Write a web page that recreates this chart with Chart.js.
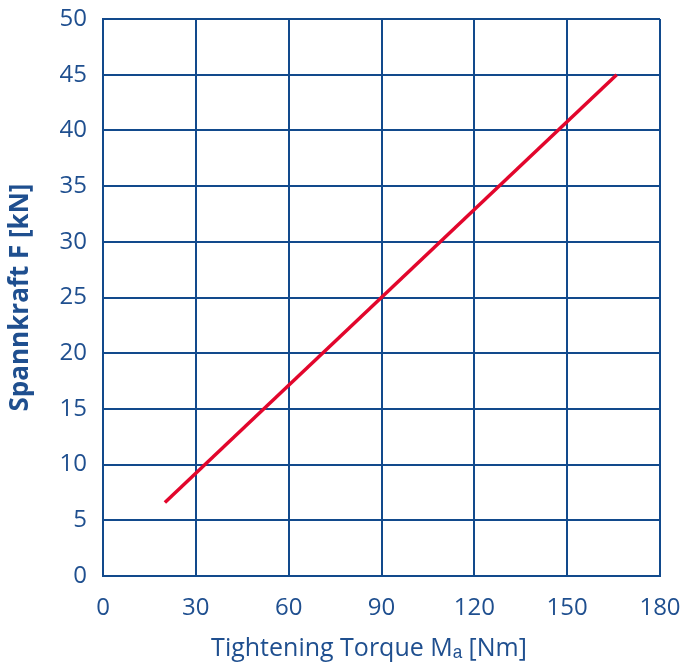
<!DOCTYPE html>
<html>
<head>
<meta charset="utf-8">
<script src="https://cdn.jsdelivr.net/npm/chart.js@4"></script>
<style>
html,body{margin:0;padding:0;background:#fff;}
#wrap{width:685px;height:664px;position:relative;}
</style>
</head>
<body>
<div id="wrap"><canvas id="c" width="685" height="664"></canvas></div>
<script>
const torque = [20, 166];
const force = [6.6, 45];
const xTicks = [0, 30, 60, 90, 120, 150, 180];
const yTicks = [0, 5, 10, 15, 20, 25, 30, 35, 40, 45, 50];
const xTitle = "Tightening Torque Mₐ [Nm]\u2002\u2002";
const yTitle = "Spannkraft F [kN]";

const blue = '#124a8c';
const textBlue = '#1f4f8f';
const fontFam = "'Open Sans', sans-serif";

new Chart(document.getElementById('c'), {
  type: 'scatter',
  data: {
    datasets: [{
      data: torque.map((x, i) => ({x: x, y: force[i]})),
      showLine: true,
      borderColor: '#e2062c',
      borderWidth: 3.5,
      pointRadius: 0,
      fill: false
    }]
  },
  options: {
    responsive: false,
    animation: false,
    devicePixelRatio: 1,
    layout: {padding: {top: 19, right: 25, left: 0, bottom: 0}},
    plugins: {legend: {display: false}, tooltip: {enabled: false}},
    scales: {
      x: {
        type: 'linear', min: 0, max: 180,
        afterBuildTicks: s => { s.ticks = xTicks.map(v => ({value: v})); },
        afterFit: s => { s.height = 88; s.paddingLeft = 0; s.paddingRight = 0; },
        grid: {color: blue, lineWidth: 2, drawTicks: false},
        border: {color: blue, width: 2},
        ticks: {color: textBlue, font: {family: fontFam, size: 24}, padding: 18, maxRotation: 0},
        title: {display: true, text: xTitle, color: textBlue, font: {family: fontFam, size: 25}, padding: {top: 0, bottom: 0}}
      },
      y: {
        type: 'linear', min: 0, max: 50,
        afterBuildTicks: s => { s.ticks = yTicks.map(v => ({value: v})); },
        afterFit: s => { s.width = 103; s.paddingTop = 0; s.paddingBottom = 0; },
        grid: {color: blue, lineWidth: 2, drawTicks: false},
        border: {color: blue, width: 2},
        ticks: {color: textBlue, font: {family: fontFam, size: 24}, padding: 16},
        title: {display: true, text: yTitle, color: textBlue, font: {family: fontFam, size: 26, weight: 'bold'}, padding: {top: 5, bottom: 0}}
      }
    }
  }
});
</script>
</body>
</html>
